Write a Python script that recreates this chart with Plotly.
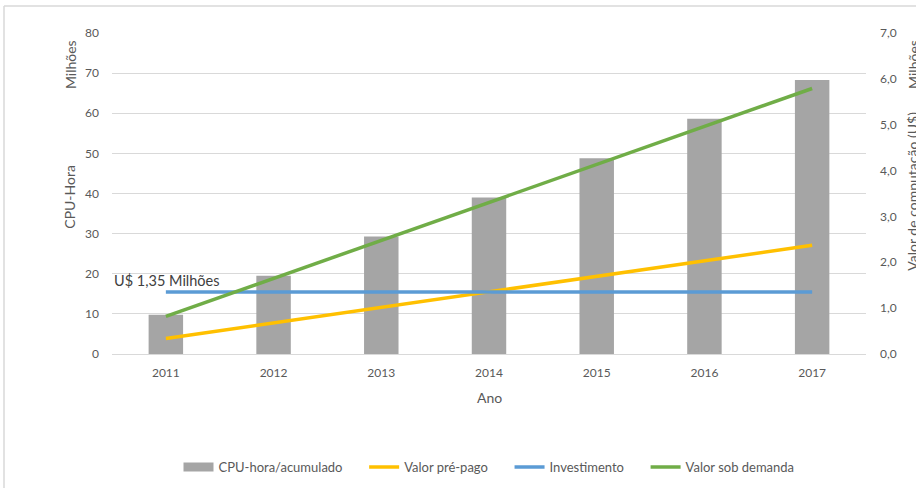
import plotly.graph_objects as go

anos = ["2011", "2012", "2013", "2014", "2015", "2016", "2017"]
cpu_hora_acumulado = [9.8, 19.5, 29.3, 39.0, 48.8, 58.6, 68.3]
valor_pre_pago = [0.34, 0.68, 1.02, 1.36, 1.70, 2.04, 2.37]
investimento = [1.35, 1.35, 1.35, 1.35, 1.35, 1.35, 1.35]
valor_sob_demanda = [0.82, 1.65, 2.48, 3.31, 4.14, 4.97, 5.79]

left_ticks = [0, 10, 20, 30, 40, 50, 60, 70, 80]
right_ticks = [0, 1, 2, 3, 4, 5, 6, 7]

FONT = "Lato"
GRAY = "#595959"
PAD = "\u00a0" * 5

fig = go.Figure()
fig.add_trace(go.Bar(x=anos, y=cpu_hora_acumulado, name="CPU-hora/acumulado",
                     marker=dict(color="#a5a5a5", line=dict(width=0)), width=0.32, yaxis="y",
                     legendgroup="cpu", showlegend=False))
# legend entry for the bar series drawn as a wide gray swatch
fig.add_trace(go.Scatter(x=[None], y=[None], name="CPU-hora/acumulado" + PAD, mode="lines",
                         line=dict(color="#a5a5a5", width=9), legendgroup="cpu", yaxis="y"))
fig.add_trace(go.Scatter(x=anos, y=valor_pre_pago, name="Valor pré-pago" + PAD, mode="lines",
                         line=dict(color="#ffc000", width=3.5), yaxis="y2"))
fig.add_trace(go.Scatter(x=anos, y=investimento, name="Investimento" + PAD, mode="lines",
                         line=dict(color="#5b9bd5", width=3.5), yaxis="y2"))
fig.add_trace(go.Scatter(x=anos, y=valor_sob_demanda, name="Valor sob demanda", mode="lines",
                         line=dict(color="#70ad47", width=3.5), yaxis="y2"))

fig.update_layout(
    width=916, height=488,
    margin=dict(l=112, r=50, t=33, b=134, autoexpand=False),
    paper_bgcolor="white", plot_bgcolor="white",
    separators=",.",
    font=dict(family=FONT, size=12, color=GRAY),
    xaxis=dict(type="category", showgrid=False, showline=True, linecolor="#d9d9d9", linewidth=1,
               ticks="", tickfont=dict(size=12, color=GRAY), ticklabelstandoff=8, automargin=False),
    yaxis=dict(range=[0, 80], tickvals=left_ticks, showgrid=True, gridcolor="#d9d9d9", gridwidth=1,
               zeroline=False, showline=False, ticks="", tickfont=dict(size=12, color=GRAY),
               ticklabelstandoff=12, automargin=False),
    yaxis2=dict(range=[0, 7], tickvals=right_ticks, tickformat=".1f", overlaying="y", side="right",
                showgrid=False, zeroline=False, showline=False, ticks="",
                tickfont=dict(size=12, color=GRAY), ticklabelstandoff=13, automargin=False),
    legend=dict(orientation="h", x=0.5, xanchor="center", y=-0.352, yanchor="middle",
                font=dict(size=13, color=GRAY), itemwidth=30, traceorder="normal"),
    showlegend=True,
)

annots = [
    dict(text="U$ 1,35 Milhões", x=0.0, xanchor="left", y=18.2, yref="y", xref="paper",
         font=dict(size=14.5, color="#404040"), yanchor="middle"),
    dict(text="Ano", x=0.5, y=-0.134, xref="paper", yref="paper", xanchor="center", yanchor="middle",
         font=dict(size=14, color=GRAY)),
    dict(text="CPU-Hora", x=-0.0557, y=0.49, xref="paper", yref="paper", textangle=-90,
         xanchor="center", yanchor="middle", font=dict(size=14, color=GRAY)),
    dict(text="Milhões", x=-0.0557, y=0.90, xref="paper", yref="paper", textangle=-90,
         xanchor="center", yanchor="middle", font=dict(size=14, color=GRAY)),
    dict(text="Valor de computação (U$)", x=1.062, y=0.508, xref="paper", yref="paper", textangle=-90,
         xanchor="center", yanchor="middle", font=dict(size=14, color=GRAY)),
    dict(text="Milhões", x=1.062, y=0.903, xref="paper", yref="paper", textangle=-90,
         xanchor="center", yanchor="middle", font=dict(size=14, color=GRAY)),
]
for a in annots:
    a["showarrow"] = False
    fig.add_annotation(**a)

# chart area border (left and top edges visible)
fig.add_shape(type="line", xref="paper", yref="paper", x0=(4 - 112) / 754, x1=(4 - 112) / 754,
              y0=(354 - 490) / 321, y1=(354 - 6) / 321, line=dict(color="#d9d9d9", width=1.5))
fig.add_shape(type="line", xref="paper", yref="paper", x0=(4 - 112) / 754, x1=(930 - 112) / 754,
              y0=(354 - 6) / 321, y1=(354 - 6) / 321, line=dict(color="#d9d9d9", width=1.5))

fig.write_html("out.html")
